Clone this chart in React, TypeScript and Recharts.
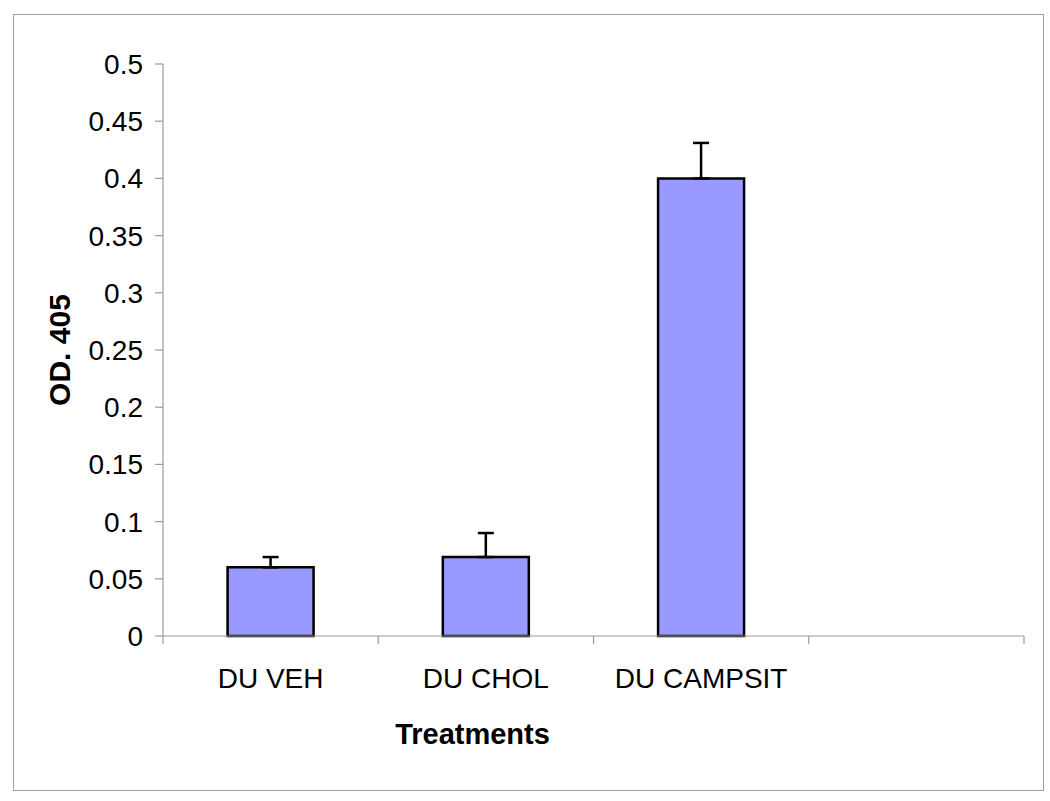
import { BarChart, Bar, XAxis, YAxis, ErrorBar } from 'recharts';

const categories = ['DU VEH', 'DU CHOL', 'DU CAMPSIT', ''];
const means = [0.06, 0.069, 0.4, null];
const upperErrors = [0.009, 0.021, 0.031, null];
const yTicks = [0, 0.05, 0.1, 0.15, 0.2, 0.25, 0.3, 0.35, 0.4, 0.45, 0.5];

const chartData = categories.map((name, i) => ({
  name,
  od: means[i],
  err: upperErrors[i] == null ? null : [0, upperErrors[i]],
}));

const FONT = '"Liberation Sans", Arial, sans-serif';
const AXIS_GREY = '#9a9a9a';
const TICK_SIZE = 8;
const TICK_MARGIN = 32;

// Excel puts the x tick marks between categories, so draw them at the band edges
const CategoryTick = (props: any) => {
  const { x, y, payload, index, visibleTicksCount } = props;
  const half = payload?.offset ?? 0;
  const axisY = y - TICK_MARGIN;
  return (
    <g>
      <line x1={x - half} y1={axisY} x2={x - half} y2={axisY + TICK_SIZE} stroke={AXIS_GREY} strokeWidth={1.2} />
      {index === visibleTicksCount - 1 && (
        <line x1={x + half} y1={axisY} x2={x + half} y2={axisY + TICK_SIZE} stroke={AXIS_GREY} strokeWidth={1.2} />
      )}
      <text x={x} y={y} dy="0.71em" textAnchor="middle" fill="#000" fontSize={28} fontFamily={FONT}>
        {payload.value}
      </text>
    </g>
  );
};

export default function App() {
  return (
    <div style={{ position: 'absolute', left: 0, top: 0, width: 1050, height: 801, background: '#fff' }}>
      <div
        style={{
          position: 'absolute',
          left: 13,
          top: 14,
          width: 1029,
          height: 775,
          border: '1.5px solid #a0a0a0',
        }}
      />
      <div style={{ position: 'absolute', left: 0, top: 0 }}>
        <BarChart
          width={1050}
          height={801}
          data={chartData}
          margin={{ top: 64, right: 26, bottom: 45, left: 0 }}
          barCategoryGap="30%"
        >
          <XAxis
            dataKey="name"
            height={120}
            stroke={AXIS_GREY}
            strokeWidth={1.2}
            tickLine={false}
            tickSize={0}
            tickMargin={TICK_MARGIN}
            tick={<CategoryTick />}
            interval={0}
            label={{
              value: 'Treatments',
              position: 'insideBottom',
              offset: 12,
              dx: -121,
              fill: '#000',
              fontSize: 29,
              fontWeight: 'bold',
              fontFamily: FONT,
            }}
          />
          <YAxis
            width={163}
            domain={[0, 0.5]}
            ticks={yTicks}
            interval={0}
            stroke={AXIS_GREY}
            strokeWidth={1.2}
            tickSize={TICK_SIZE}
            tickMargin={12}
            tick={{ fill: '#000', fontSize: 28, fontFamily: FONT }}
            label={{
              value: 'OD. 405',
              angle: -90,
              position: 'center',
              dx: -22,
              fill: '#000',
              fontSize: 30,
              fontWeight: 'bold',
              fontFamily: FONT,
            }}
          />
          <Bar dataKey="od" fill="#9999ff" stroke="#000" strokeWidth={2.5} isAnimationActive={false}>
            <ErrorBar dataKey="err" direction="y" width={8} stroke="#000" strokeWidth={2.5} />
          </Bar>
        </BarChart>
      </div>
    </div>
  );
}
